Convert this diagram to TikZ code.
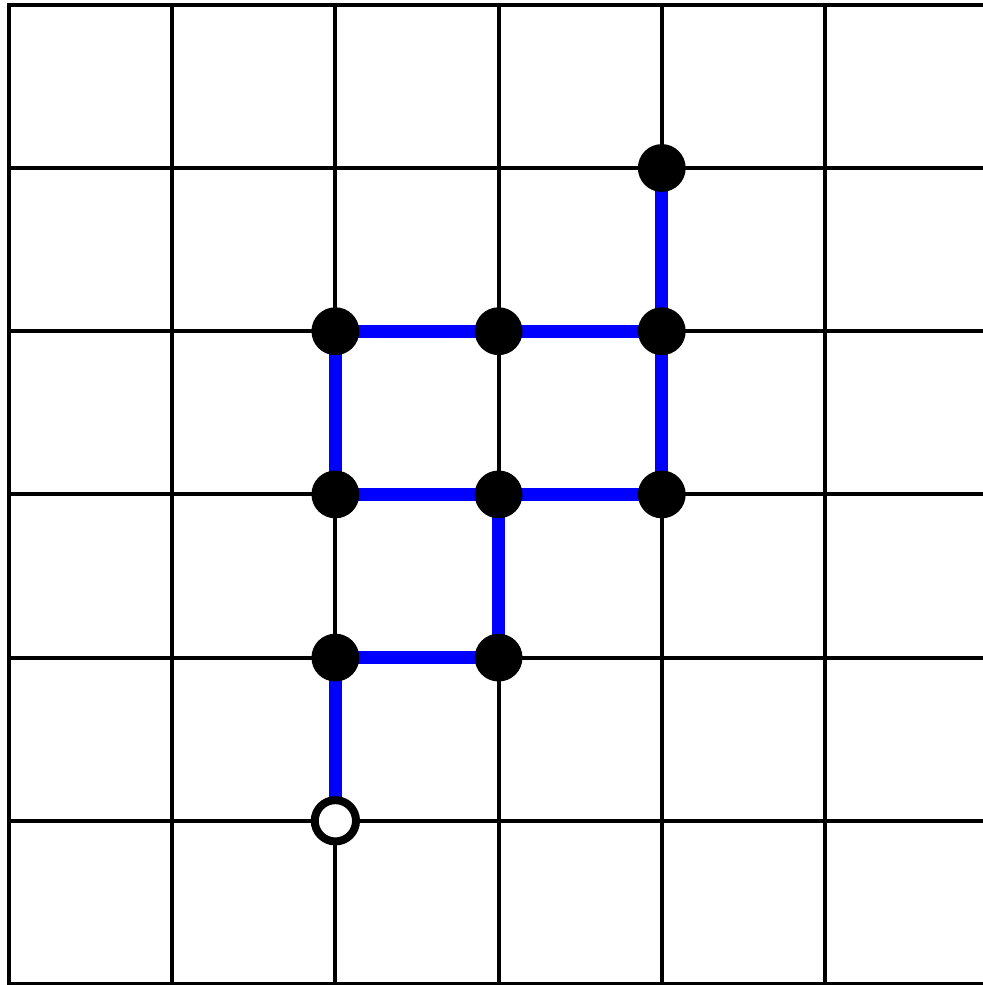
\documentclass[tikz,border=0pt]{standalone}
\begin{document}
\begin{tikzpicture}[x=1cm,y=1cm,
  gridline/.style={line width=0.7pt,black,line cap=rect},
  bond/.style={line width=2.26pt,blue},
  site/.style={circle,fill=black,inner sep=0pt,minimum size=8.34pt},
  origin/.style={circle,draw=black,fill=white,line width=1.39pt,inner sep=0pt,minimum size=7.2pt}]
\useasboundingbox (-0.0551,-0.0061) rectangle (5.968,6.0294);
\clip (-0.0551,-0.0061) rectangle (5.968,6.0294);
\draw[gridline] (0,0) grid (6.2,6);
\coordinate (o) at (2,1);
\coordinate (a) at (2,2);
\coordinate (b) at (3,2);
\coordinate (c) at (2,3);
\coordinate (d) at (3,3);
\coordinate (e) at (4,3);
\coordinate (f) at (2,4);
\coordinate (g) at (3,4);
\coordinate (h) at (4,4);
\coordinate (i) at (4,5);
\draw[bond] (o) -- (a) -- (b) -- (d) -- (e) -- (h) -- (i);
\draw[bond] (c) -- (d);
\draw[bond] (c) -- (f) -- (g) -- (h);
\foreach \p in {a,b,c,d,e,f,g,h,i} \node[site] (n\p) at (\p) {};
\node[origin] (no) at (o) {};
\end{tikzpicture}
\end{document}
